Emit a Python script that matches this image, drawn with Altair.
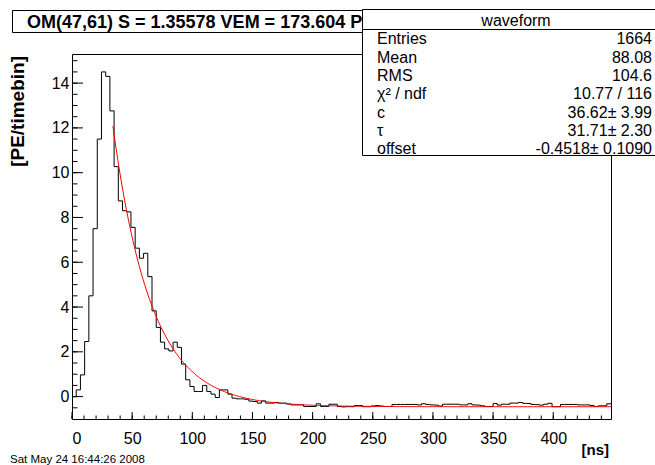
import altair as alt
import pandas as pd
import numpy as np

# ---------------- data ----------------
BIN_WIDTH = 3.5  # ns, 128 bins from 0 to 448 ns
pe_per_bin = [
    0.0, 0.3, 0.97, 2.46, 4.5, 7.5, 11.5, 14.5, 14.3, 12.76,
    10.27, 8.74, 8.3, 8.25, 7.56, 6.63, 6.18, 6.4, 5.36, 3.83,
    3.09, 2.43, 2.13, 2.04, 2.43, 2.2, 1.45, 0.75, 0.45, 0.23,
    0.23, 0.5, 0.23, 0.11, -0.04, 0.3, 0.3, 0.11, -0.07, -0.1,
    -0.1, -0.12, -0.2, -0.22, -0.29, -0.19, -0.29, -0.29, -0.26, -0.29,
    -0.29, -0.33, -0.37, -0.37, -0.37, -0.44, -0.44, -0.44, -0.32, -0.44,
    -0.44, -0.34, -0.34, -0.44, -0.46, -0.45, -0.45, -0.4, -0.4, -0.45,
    -0.45, -0.42, -0.4, -0.42, -0.44, -0.44, -0.35, -0.35, -0.35, -0.35,
    -0.35, -0.35, -0.37, -0.32, -0.35, -0.37, -0.38, -0.42, -0.34, -0.34,
    -0.34, -0.34, -0.37, -0.37, -0.32, -0.37, -0.38, -0.41, -0.44, -0.44,
    -0.31, -0.38, -0.34, -0.34, -0.29, -0.29, -0.26, -0.3, -0.31, -0.35,
    -0.36, -0.38, -0.34, -0.3, -0.45, -0.45, -0.35, -0.35, -0.35, -0.35,
    -0.37, -0.37, -0.37, -0.4, -0.44, -0.41, -0.41, -0.32,
]

# fit parameters (as shown in the stats box)
fit_c = 36.62
fit_tau = 31.71
fit_offset = -0.4518
fit_start = 34.0

x_major = [0, 50, 100, 150, 200, 250, 300, 350, 400]
x_minor = list(range(0, 441, 10))
y_major = [0, 2, 4, 6, 8, 10, 12, 14]
y_minor = [v / 2 for v in range(-1, 31)]

title_text = "OM(47,61) S = 1.35578 VEM = 173.604 PE"
stats_header = "waveform"
stats_labels = ["Entries", "Mean", "RMS", "χ² / ndf", "c", "τ", "offset"]
stats_values = ["1664", "88.08", "104.6", "10.77 / 116", "36.62± 3.99",
                "31.71± 2.30", "-0.4518± 0.1090"]
date_text = "Sat May 24 16:44:26 2008"

# ---------------- tables ----------------
n = len(pe_per_bin)
x_max = n * BIN_WIDTH
hist_df = pd.DataFrame({
    "t": [i * BIN_WIDTH for i in range(n + 1)],
    "v": pe_per_bin + [pe_per_bin[-1]],
})
t_fit = np.linspace(fit_start, x_max, 300)
fit_df = pd.DataFrame({"t": t_fit, "v": fit_c * np.exp(-t_fit / fit_tau) + fit_offset})

W, H = 539, 365
FONT = "Liberation Sans"

x_scale = alt.Scale(domain=[0, x_max], nice=False, zero=False)
y_scale = alt.Scale(domain=[-1.0, 15.3], nice=False, zero=False)
x_axis = alt.Axis(values=x_major, ticks=False, domain=False, grid=False, title=None,
                  labelFontSize=16, labelPadding=11, labelFont=FONT, labelColor="black")
y_axis = alt.Axis(values=y_major, ticks=False, domain=False, grid=False, title=None,
                  labelFontSize=16, labelPadding=3, labelFont=FONT, labelColor="black")

def X(f="t"):
    return alt.X(f"{f}:Q", scale=x_scale, axis=x_axis)

def Y(f="v"):
    return alt.Y(f"{f}:Q", scale=y_scale, axis=y_axis)

hist = alt.Chart(hist_df).mark_line(interpolate="step-after", color="black", strokeWidth=1).encode(
    x=X(), y=Y())
fit = alt.Chart(fit_df).mark_line(color="red", strokeWidth=1).encode(x=X(), y=Y())

xmaj_df = pd.DataFrame({"t": x_major})
xmin_df = pd.DataFrame({"t": x_minor})
ymaj_df = pd.DataFrame({"v": y_major})
ymin_df = pd.DataFrame({"v": y_minor})

xt_major = alt.Chart(xmaj_df).mark_rule(color="black").encode(
    x=X(), y=alt.value(H), y2=alt.value(H - 7))
xt_minor = alt.Chart(xmin_df).mark_rule(color="black").encode(
    x=X(), y=alt.value(H), y2=alt.value(H - 3.5))
yt_major = alt.Chart(ymaj_df).mark_rule(color="black").encode(
    y=Y(), x=alt.value(0), x2=alt.value(11))
yt_minor = alt.Chart(ymin_df).mark_rule(color="black").encode(
    y=Y(), x=alt.value(0), x2=alt.value(5.5))

one = pd.DataFrame({"s": [title_text]})
title_box = alt.Chart(one).mark_rect(fill="white", stroke="black", strokeWidth=1).encode(
    x=alt.value(-59.5), x2=alt.value(300), y=alt.value(-43.5), y2=alt.value(-21.5))
title = alt.Chart(one).mark_text(align="left", baseline="alphabetic", font=FONT,
                                 fontSize=18, fontWeight="bold", color="black").encode(
    x=alt.value(-45), y=alt.value(-26), text="s:N")

stats_box = alt.Chart(one).mark_rect(fill="white", stroke="black", strokeWidth=1).encode(
    x=alt.value(290.5), x2=alt.value(598), y=alt.value(-44.5), y2=alt.value(101.5))
stats_sep = alt.Chart(one).mark_rule(color="black", strokeWidth=1).encode(
    x=alt.value(290.5), x2=alt.value(598), y=alt.value(-24.5))
header = alt.Chart(pd.DataFrame({"s": [stats_header]})).mark_text(
    align="center", baseline="alphabetic", font=FONT, fontSize=16, color="black").encode(
    x=alt.value(444), y=alt.value(-28), text="s:N")

ROW0, ROWSTEP = -9.7, 18.3
row_layers = []
for i, (lab, val) in enumerate(zip(stats_labels, stats_values)):
    d = pd.DataFrame({"lab": [lab], "val": [val]})
    yy = ROW0 + i * ROWSTEP
    row_layers.append(alt.Chart(d).mark_text(
        align="left", baseline="alphabetic", font=FONT, fontSize=16, color="black").encode(
        x=alt.value(305), y=alt.value(yy), text="lab:N"))
    row_layers.append(alt.Chart(d).mark_text(
        align="right", baseline="alphabetic", font=FONT, fontSize=16, color="black").encode(
        x=alt.value(580), y=alt.value(yy), text="val:N"))

xtitle = alt.Chart(pd.DataFrame({"s": ["[ns]"]})).mark_text(
    align="right", baseline="alphabetic", font=FONT, fontSize=15, fontWeight="bold",
    color="black").encode(x=alt.value(537), y=alt.value(401), text="s:N")
ytitle = alt.Chart(pd.DataFrame({"s": ["[PE/timebin]"]})).mark_text(
    align="right", baseline="middle", angle=270, font=FONT, fontSize=19, fontWeight="bold",
    color="black").encode(x=alt.value(-54), y=alt.value(2), text="s:N")
date = alt.Chart(pd.DataFrame({"s": [date_text]})).mark_text(
    align="left", baseline="alphabetic", font=FONT, fontSize=11.5, color="black").encode(
    x=alt.value(-62), y=alt.value(409), text="s:N")

chart = alt.layer(
    hist, fit, xt_major, xt_minor, yt_major, yt_minor,
    title_box, title, stats_box, stats_sep, header, *row_layers,
    xtitle, ytitle, date,
).properties(
    width=W, height=H,
    autosize=alt.AutoSizeParams(type="none"),
    padding={"left": 72, "top": 54, "right": 44, "bottom": 46},
    background="white",
).configure_view(stroke="black", strokeWidth=1)

chart.save("out.html", embed_options={"renderer": "svg", "actions": False})
